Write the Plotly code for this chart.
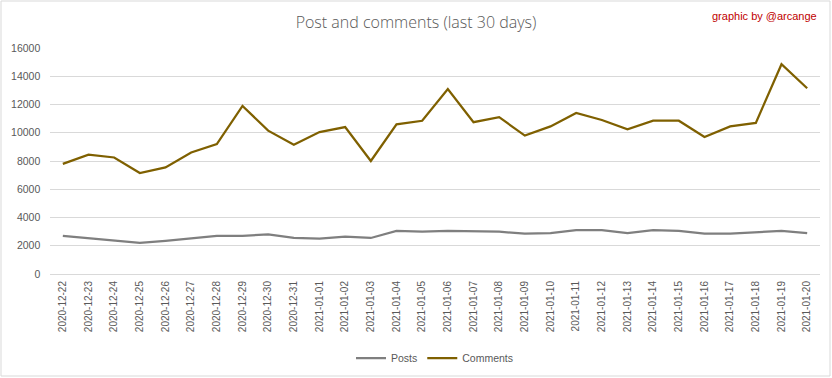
import plotly.graph_objects as go

dates = ["2020-12-22","2020-12-23","2020-12-24","2020-12-25","2020-12-26","2020-12-27","2020-12-28",
         "2020-12-29","2020-12-30","2020-12-31","2021-01-01","2021-01-02","2021-01-03","2021-01-04",
         "2021-01-05","2021-01-06","2021-01-07","2021-01-08","2021-01-09","2021-01-10","2021-01-11",
         "2021-01-12","2021-01-13","2021-01-14","2021-01-15","2021-01-16","2021-01-17","2021-01-18",
         "2021-01-19","2021-01-20"]
posts = [2700, 2550, 2400, 2200, 2350, 2500, 2700, 2700, 2800, 2550, 2500, 2650, 2550, 3050, 3000,
         3050, 3050, 3000, 2850, 2900, 3100, 3100, 2900, 3100, 3050, 2850, 2850, 2950, 3050, 2900]
comments = [7800, 8450, 8250, 7150, 7550, 8600, 9200, 11900, 10150, 9150, 10050, 10400, 8000, 10600,
            10850, 13100, 10750, 11100, 9800, 10450, 11400, 10900, 10250, 10850, 10850, 9700, 10450,
            10700, 14850, 13150]

FONT = "Liberation Sans, Arial, sans-serif"

fig = go.Figure()
fig.add_trace(go.Scatter(x=dates, y=posts, name="Posts", mode="lines",
                         line=dict(color="#7F7F7F", width=2.25)))
fig.add_trace(go.Scatter(x=dates, y=comments, name="Comments", mode="lines",
                         line=dict(color="#7F6000", width=2.25)))

L, R, T, B = 50, 12, 48, 104
W, H = 832, 378
pw, ph = W - L - R, H - T - B

fig.update_layout(
    width=W, height=H,
    margin=dict(l=L, r=R, t=T, b=B, autoexpand=False),
    paper_bgcolor="white", plot_bgcolor="white",
    font=dict(family=FONT, color="#595959", size=10),
    title=dict(text="Post and comments (last 30 days)", x=0.5, xanchor="center",
               y=1 - 22 / H, yanchor="middle",
               font=dict(family="Open Sans, Liberation Sans, sans-serif", size=16,
                         color="#595959", weight=300)),
    xaxis=dict(type="category", range=[-0.5, len(dates) - 0.5], tickangle=-90,
               showgrid=False, showline=False, ticks="", automargin=False,
               ticklabelstandoff=4,
               tickfont=dict(size=10, color="#595959")),
    yaxis=dict(range=[0, 16000], dtick=2000, tickformat="d", showgrid=True,
               gridcolor="#D9D9D9", gridwidth=1, automargin=False,
               zeroline=True, zerolinecolor="#D9D9D9", zerolinewidth=1,
               showline=False, ticks="", tickfont=dict(size=10.5, color="#595959"),
               ticksuffix="   "),
    legend=dict(orientation="h", x=0.5, xanchor="center", y=-(358 - (T + ph)) / ph,
                yanchor="middle", font=dict(size=10.5, color="#595959")),
    showlegend=True,
    annotations=[dict(text="graphic by @arcange", xref="paper", yref="paper",
                      x=(819 - L) / pw, y=1 + (T - 16) / ph, xanchor="right", yanchor="middle",
                      showarrow=False, font=dict(size=11, color="#C00000"))],
    shapes=[dict(type="rect", xref="paper", yref="paper",
                 x0=-(L - 1) / pw, x1=1 + (R - 2) / pw,
                 y0=-(B - 2) / ph, y1=1 + (T - 1) / ph,
                 line=dict(color="#D9D9D9", width=1), fillcolor="rgba(0,0,0,0)", layer="below")],
)

fig.write_html("out.html", config={"displayModeBar": False},
               post_script="document.body.style.margin='0px';document.body.style.padding='0px';")
